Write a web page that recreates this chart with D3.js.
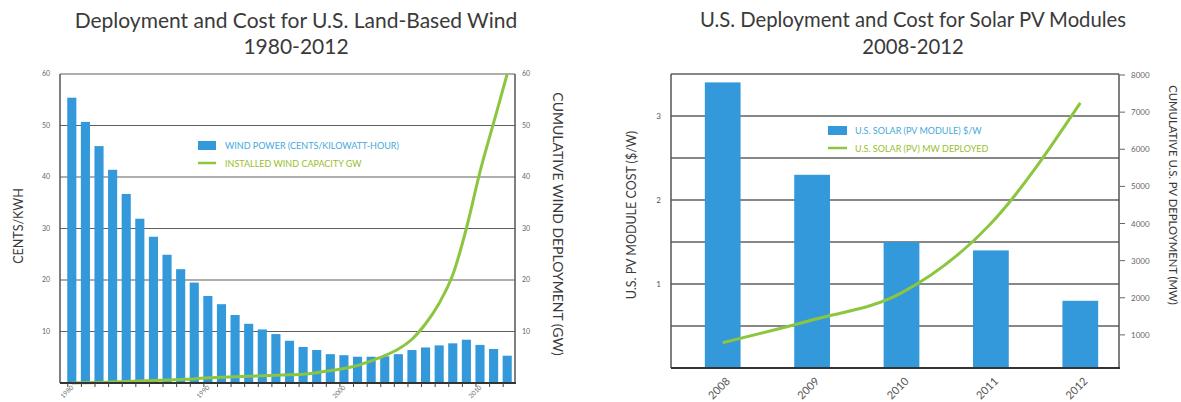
<!DOCTYPE html>
<html>
<head>
<meta charset="utf-8">
<script src="https://cdn.jsdelivr.net/npm/d3@7"></script>
<style>
  html, body { margin: 0; padding: 0; background: #fff; }
  svg { display: block; font-family: Lato, "Open Sans", sans-serif; }
</style>
</head>
<body>
<svg id="chart" width="1181" height="402"></svg>
<script>
// ---- Wind: cost per kWh and cumulative installed capacity, 1980-2012 ----
const windYears = d3.range(1980, 2013);
const windCost = [55.4, 50.7, 46.0, 41.4, 36.7, 31.9, 28.4, 24.9, 22.1, 19.5,
                  16.9, 15.3, 13.2, 11.5, 10.4, 9.5, 8.2, 7.0, 6.4, 5.6,
                  5.4, 5.1, 5.1, 5.2, 5.6, 6.4, 6.9, 7.3, 7.7, 8.4,
                  7.4, 6.6, 5.3];
const windCapacity = [0.0, 0.05, 0.1, 0.2, 0.3, 0.4, 0.5, 0.6, 0.7, 0.8,
                      1.0, 1.1, 1.2, 1.3, 1.4, 1.5, 1.6, 1.7, 2.0, 2.4,
                      2.8, 3.4, 4.3, 5.3, 6.6, 8.5, 11.5, 15.5, 21.0, 30.0,
                      41.0, 50.5, 60.0];
const windYearLabels = [1980, 1990, 2000, 2010];
const windLeftTicks = [10, 20, 30, 40, 50, 60];
const windRightTicks = [10, 20, 30, 40, 50, 60];

// ---- Solar PV: module cost and cumulative deployment, 2008-2012 ----
const solarYears = ["2008", "2009", "2010", "2011", "2012"];
const solarCost = [3.40, 2.30, 1.50, 1.40, 0.80];
const solarDeployed = [790, 1400, 2130, 4000, 7250];
const solarLeftTicks = [1, 2, 3];
const solarGrid = [0.5, 1, 1.5, 2, 2.5, 3, 3.5];
const solarRightTicks = [1000, 2000, 3000, 4000, 5000, 6000, 7000, 8000];

const BLUE = "#3399da";
const GREEN = "#8cc63f";
const GRID = "#5f5f5f";
const TEXT = "#3a3a3a";

const svg = d3.select("#chart");

// ================= Wind panel =================
{
  const L = 60, R = 515, T = 74, B = 383;
  const x = d3.scaleBand().domain(windYears).range([65, 514])
    .paddingInner(0.33).paddingOuter(0.165);
  const y = d3.scaleLinear().domain([0, 60]).range([B, T]);
  const y2 = d3.scaleLinear().domain([0, 60]).range([B, T]);
  const g = svg.append("g");

  // horizontal grid
  g.selectAll("line.grid").data(windLeftTicks).join("line")
    .attr("x1", L).attr("x2", R)
    .attr("y1", d => y(d)).attr("y2", d => y(d))
    .attr("stroke", GRID).attr("stroke-width", 1.2);

  // bars
  g.selectAll("rect.bar").data(windYears).join("rect")
    .attr("x", d => x(d)).attr("width", x.bandwidth())
    .attr("y", (d, i) => y(windCost[i]))
    .attr("height", (d, i) => B - y(windCost[i]))
    .attr("fill", BLUE);

  // capacity line
  const line = d3.line()
    .x((d, i) => x(windYears[i]) + x.bandwidth() / 2)
    .y(d => y2(d))
    .curve(d3.curveMonotoneX);
  g.append("path").datum(windCapacity)
    .attr("d", line).attr("fill", "none")
    .attr("stroke", GREEN).attr("stroke-width", 3);

  // frame
  g.append("line").attr("x1", L).attr("x2", L).attr("y1", T).attr("y2", B)
    .attr("stroke", "#555").attr("stroke-width", 1.5);
  g.append("line").attr("x1", R).attr("x2", R).attr("y1", T).attr("y2", B)
    .attr("stroke", "#555").attr("stroke-width", 1.5);
  g.append("line").attr("x1", L).attr("x2", R + 1).attr("y1", B).attr("y2", B)
    .attr("stroke", "#333").attr("stroke-width", 2);

  // year ticks
  g.selectAll("line.xt").data(windYears).join("line")
    .attr("x1", d => x(d) + x.bandwidth() / 2 - 4)
    .attr("x2", d => x(d) + x.bandwidth() / 2 - 4)
    .attr("y1", B).attr("y2", B + 4)
    .attr("stroke", "#444").attr("stroke-width", 1);
  g.selectAll("text.xl").data(windYearLabels).join("text")
    .attr("transform", d => `translate(${x(d) + x.bandwidth() / 2 + 2},${B + 5}) rotate(-45)`)
    .attr("text-anchor", "end")
    .attr("font-size", 6.5).attr("fill", "#777").text(d => d);

  // y tick labels
  g.selectAll("text.yl").data(windLeftTicks).join("text")
    .attr("x", 50).attr("y", d => y(d) + 2)
    .attr("text-anchor", "end").attr("font-size", 7).attr("fill", "#666")
    .text(d => d);
  g.selectAll("text.yr").data(windRightTicks).join("text")
    .attr("x", 522).attr("y", d => y2(d) + 2)
    .attr("text-anchor", "start").attr("font-size", 7).attr("fill", "#666")
    .text(d => d);

  // axis titles
  g.append("text").attr("transform", "translate(23,226) rotate(-90)")
    .attr("text-anchor", "middle").attr("font-size", 12.5).attr("fill", TEXT)
    .text("CENTS/KWH");
  g.append("text").attr("transform", "translate(553,224) rotate(90)")
    .attr("text-anchor", "middle").attr("font-size", 14).attr("fill", TEXT)
    .text("CUMULATIVE WIND DEPLOYMENT (GW)");

  // title
  g.append("text").attr("x", 296).attr("y", 28).attr("text-anchor", "middle")
    .attr("font-size", 21).attr("fill", TEXT)
    .text("Deployment and Cost for U.S. Land-Based Wind");
  g.append("text").attr("x", 296).attr("y", 54).attr("text-anchor", "middle")
    .attr("font-size", 21).attr("fill", TEXT).text("1980-2012");

  // legend
  g.append("rect").attr("x", 198).attr("y", 141).attr("width", 18).attr("height", 9)
    .attr("fill", BLUE);
  g.append("text").attr("x", 225).attr("y", 148.5).attr("font-size", 9)
    .attr("fill", "#45a9dc").text("WIND POWER (CENTS/KILOWATT-HOUR)");
  g.append("line").attr("x1", 198).attr("x2", 216).attr("y1", 163).attr("y2", 163)
    .attr("stroke", GREEN).attr("stroke-width", 2.5);
  g.append("text").attr("x", 225).attr("y", 166.5).attr("font-size", 9)
    .attr("fill", "#9bbd2d").text("INSTALLED WIND CAPACITY GW");
}

// ================= Solar panel =================
{
  const L = 671, R = 1119, T = 74, B = 368;
  const x = d3.scaleBand().domain(solarYears).range([678, 1125])
    .paddingInner(0.6).paddingOuter(0.3);
  const y = d3.scaleLinear().domain([0, 3.5]).range([B, T]);
  const y2 = d3.scaleLinear().domain([0, 8000]).range([372, 75]);
  const g = svg.append("g");

  g.selectAll("line.grid").data(solarGrid).join("line")
    .attr("x1", L).attr("x2", R)
    .attr("y1", d => y(d)).attr("y2", d => y(d))
    .attr("stroke", GRID).attr("stroke-width", 1.4);

  g.selectAll("rect.bar").data(solarYears).join("rect")
    .attr("x", d => x(d)).attr("width", x.bandwidth())
    .attr("y", (d, i) => y(solarCost[i]))
    .attr("height", (d, i) => B - y(solarCost[i]))
    .attr("fill", BLUE);

  const line = d3.line()
    .x((d, i) => x(solarYears[i]) + x.bandwidth() / 2)
    .y(d => y2(d))
    .curve(d3.curveMonotoneX);
  g.append("path").datum(solarDeployed)
    .attr("d", line).attr("fill", "none")
    .attr("stroke", GREEN).attr("stroke-width", 3);

  // frame
  g.append("line").attr("x1", L).attr("x2", L).attr("y1", T).attr("y2", B)
    .attr("stroke", "#555").attr("stroke-width", 1.5);
  g.append("line").attr("x1", R).attr("x2", R).attr("y1", T).attr("y2", B)
    .attr("stroke", "#555").attr("stroke-width", 1.5);
  g.append("line").attr("x1", L).attr("x2", R + 1).attr("y1", B).attr("y2", B)
    .attr("stroke", "#333").attr("stroke-width", 2);

  // x labels
  g.selectAll("text.xl").data(solarYears).join("text")
    .attr("transform", d => `translate(${x(d) + x.bandwidth() / 2 + 8},${B + 14}) rotate(-45)`)
    .attr("text-anchor", "end")
    .attr("font-size", 11).attr("fill", "#555").text(d => d);

  // left ticks
  g.selectAll("text.yl").data(solarLeftTicks).join("text")
    .attr("x", 661).attr("y", d => y(d) + 3)
    .attr("text-anchor", "end").attr("font-size", 8).attr("fill", "#555")
    .text(d => d);

  // right ticks
  g.selectAll("line.rt").data(solarRightTicks).join("line")
    .attr("x1", R + 1).attr("x2", R + 6)
    .attr("y1", d => y2(d)).attr("y2", d => y2(d))
    .attr("stroke", "#666").attr("stroke-width", 1);
  g.selectAll("text.yr").data(solarRightTicks).join("text")
    .attr("x", 1131).attr("y", d => y2(d) + 3)
    .attr("text-anchor", "start").attr("font-size", 8).attr("fill", "#666")
    .text(d => d);

  // axis titles
  g.append("text").attr("transform", "translate(636,215) rotate(-90)")
    .attr("text-anchor", "middle").attr("font-size", 12.5).attr("fill", TEXT)
    .text("U.S. PV MODULE COST ($/W)");
  g.append("text").attr("transform", "translate(1169,195) rotate(90)")
    .attr("text-anchor", "middle").attr("font-size", 11.3).attr("fill", TEXT)
    .text("CUMULATIVE U.S. PV DEPLOYMENT (MW)");

  // title
  g.append("text").attr("x", 913).attr("y", 27).attr("text-anchor", "middle")
    .attr("font-size", 20.3).attr("fill", TEXT)
    .text("U.S. Deployment and Cost for Solar PV Modules");
  g.append("text").attr("x", 913).attr("y", 54).attr("text-anchor", "middle")
    .attr("font-size", 20.3).attr("fill", TEXT).text("2008-2012");

  // legend
  g.append("rect").attr("x", 828).attr("y", 126).attr("width", 19).attr("height", 9)
    .attr("fill", BLUE);
  g.append("text").attr("x", 855).attr("y", 133.5).attr("font-size", 9)
    .attr("fill", "#45a9dc").text("U.S. SOLAR (PV MODULE) $/W");
  g.append("line").attr("x1", 828).attr("x2", 847).attr("y1", 148).attr("y2", 148)
    .attr("stroke", GREEN).attr("stroke-width", 2.5);
  g.append("text").attr("x", 855).attr("y", 151.5).attr("font-size", 9)
    .attr("fill", "#9bbd2d").text("U.S. SOLAR (PV) MW DEPLOYED");
}
</script>
</body>
</html>
